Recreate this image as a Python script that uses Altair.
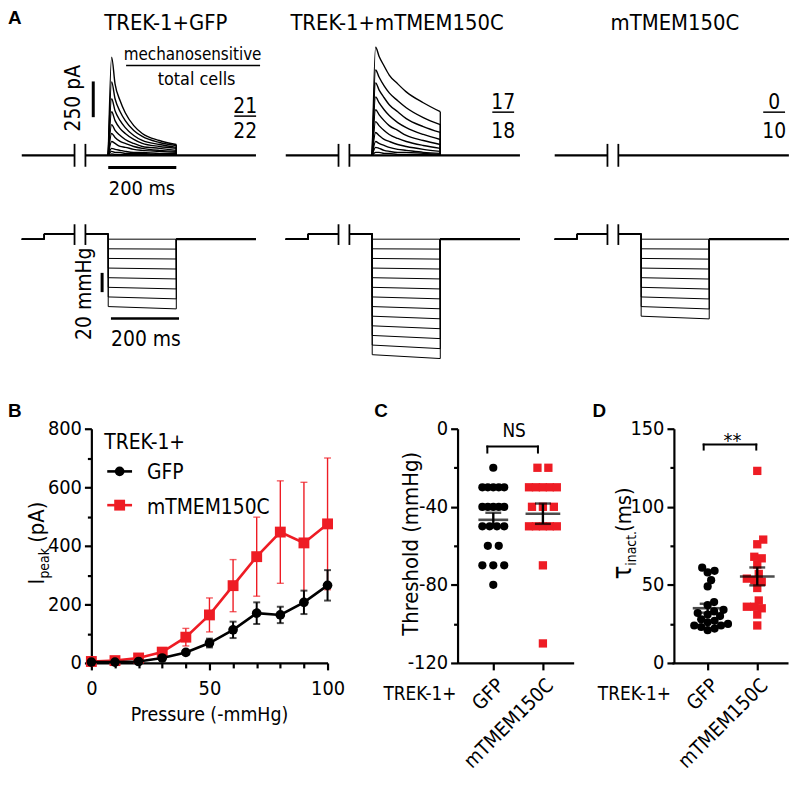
import altair as alt
import pandas as pd

# ------------------------------------------------------------------ data
# Panel A : whole-cell traces
A_TITLES = ["TREK-1+GFP", "TREK-1+mTMEM150C", "mTMEM150C"]
A_SENSITIVE = ["21", "17", "0"]
A_TOTAL = ["22", "18", "10"]
A_TIME = [0, 10, 20, 35, 50, 75, 100, 150, 200]          # ms after pressure onset
A_GFP_CURRENT = [                                          # pA
    [0, 687, 500, 382, 298, 208, 153, 104, 76],
    [0, 514, 396, 305, 243, 174, 132, 90, 69],
    [0, 396, 312, 243, 194, 139, 104, 76, 56],
    [0, 305, 243, 187, 153, 111, 83, 62, 49],
    [0, 215, 174, 139, 111, 83, 62, 49, 35],
    [0, 153, 125, 97, 83, 62, 49, 35, 28],
    [0, 97, 83, 62, 56, 42, 35, 28, 21],
    [0, 49, 42, 35, 28, 21, 21, 14, 14],
    [0, 28, 21, 21, 14, 14, 14, 7, 7],
    [0, 10, 7, 7, 7, 7, 7, 3, 3],
]
A_MTM_CURRENT = [
    [0, 756, 694, 625, 562, 500, 444, 368, 305],
    [0, 597, 548, 486, 437, 382, 333, 264, 215],
    [0, 507, 458, 403, 354, 305, 257, 201, 160],
    [0, 409, 368, 319, 278, 229, 194, 146, 111],
    [0, 319, 285, 243, 208, 174, 139, 104, 76],
    [0, 236, 208, 174, 146, 118, 97, 69, 49],
    [0, 160, 139, 111, 97, 76, 62, 42, 28],
    [0, 97, 83, 69, 56, 42, 35, 21, 14],
    [0, 56, 49, 35, 28, 21, 21, 14, 7],
    [0, 21, 21, 14, 14, 7, 7, 7, 0],
]
A_ALONE_CURRENT = []
A_REC = [-254, -99, -67, 434]     # record start, break start, break end, record end (ms)
A_HOLD_T = -188                   # ms, small holding step
A_HOLD_P = 5.5                    # mmHg
A_STEP_END = 200                  # ms
A_GFP_P_START = [0, -10, -20, -30, -40, -50, -60, -70]
A_GFP_P_END = [0, -10.3, -20.6, -31, -41.3, -51.7, -62, -72.4]
A_MTM_P_START = [0, -10, -20, -30, -40, -50, -60, -70, -80, -90, -100, -110, -120]
A_MTM_P_END = [0, -10.3, -20.7, -31, -41.3, -51.7, -62, -72.3, -82.7, -93, -103.3, -113.7, -124]
A_ALONE_P_START = [0, -10, -20, -30, -40, -50, -60, -70, -80]
A_ALONE_P_END = [0, -10.3, -20.7, -31, -41.4, -51.8, -62.1, -72.5, -82.8]

# Panel B : peak current vs pressure (mean, SEM)
B_PRESSURE = [0, 10, 20, 30, 40, 50, 60, 70, 80, 90, 100]
B_GFP_MEAN = [3, 3, 5, 17, 36, 68, 113, 170, 164, 207, 265]
B_GFP_SEM = [2, 2, 3, 5, 7, 15, 28, 37, 28, 40, 52]
B_MTM_MEAN = [5, 8, 17, 37, 88, 164, 264, 363, 447, 410, 475]
B_MTM_SEM = [3, 4, 6, 9, 30, 58, 89, 135, 175, 207, 225]

# Panel C : threshold (mmHg)
C_GFP = [-20, -30, -30, -30, -30, -30, -40, -40, -40, -40, -40,
         -50, -50, -50, -50, -60, -60, -70, -70, -70, -80]
C_MTM = [-20, -20, -30, -30, -30, -30, -30, -40, -40, -40,
         -50, -50, -50, -50, -50, -70, -110]
# Panel D : inactivation time constant (ms)
D_GFP = [61, 59, 58, 53, 49, 39, 37, 34, 33, 32, 31, 30, 28, 27, 26, 25, 24, 24, 23, 22, 21]
D_MTM = [123, 79, 76, 68, 67, 63, 57, 54, 53, 52, 48, 40, 36, 36, 35, 31, 24]
GROUPS = ["GFP", "mTMEM150C"]

# ------------------------------------------------------------------ style
FONT = "DejaVu Sans Condensed, DejaVu Sans, sans-serif"
BOLD = "Liberation Sans, Arial, sans-serif"
RED = "#ee1c24"
W, H = 790, 772
BOTTOM = 657          # y of the 0-line of the lower panels (chart px)
TICK_FS = 20


def scale(d0, d1, p0, ppu, flip=True):
    rng = [p0 - d0 * ppu, p0 - d1 * ppu] if flip else [p0 + d0 * ppu, p0 + d1 * ppu]
    return alt.Scale(domain=[d0, d1], range=rng, nice=False, zero=False)


def axis(orient, offset, values, labels=True, tick=6, domain=True, expr=None, angle=0, pad=3):
    kw = dict(orient=orient, offset=offset, values=values, grid=False, labels=labels,
              domain=domain, domainColor="black", domainWidth=2.2, tickColor="black",
              tickWidth=2.2, tickSize=tick, labelFont=FONT, labelFontSize=TICK_FS,
              labelColor="black", labelPadding=pad, labelFlush=False, labelOverlap=False,
              labelAngle=angle)
    if expr:
        kw["labelExpr"] = expr
    return alt.Axis(**kw)


layers = []
ONE = pd.DataFrame({"k": [0]})


def text(s, x, y, size=21, align="center", baseline="alphabetic", angle=0,
         font=FONT, weight="normal", color="black"):
    layers.append(alt.Chart(ONE).mark_text(
        x=x - 8, y=y - 8, align=align, baseline=baseline, angle=angle, font=font,
        fontSize=size, fontWeight=weight, color=color).encode(text=alt.value(s)))


def hline(x1, x2, y, w=2.0, color="black"):
    layers.append(alt.Chart(ONE).mark_rule(color=color, strokeWidth=w).encode(
        x=alt.value(x1 - 8), x2=alt.value(x2 - 8), y=alt.value(y - 8)))


def vline(x, y1, y2, w=2.0, color="black"):
    layers.append(alt.Chart(ONE).mark_rule(color=color, strokeWidth=w).encode(
        x=alt.value(x - 8), y=alt.value(y1 - 8), y2=alt.value(y2 - 8)))


# ------------------------------------------------------------------ panel A
K_T = 0.343                       # px per ms
COL_P = [101, 367, 638]           # chart x of pressure onset per column
I_SCALE = scale(-150, 900, 145.5, 0.144)
P_SCALE = scale(-135, 25, 230, 0.97)
CURRENTS = [A_GFP_CURRENT, A_MTM_CURRENT, A_ALONE_CURRENT]
P_STARTS = [A_GFP_P_START, A_MTM_P_START, A_ALONE_P_START]
P_ENDS = [A_GFP_P_END, A_MTM_P_END, A_ALONE_P_END]

for c in range(3):
    P = COL_P[c]
    xs = alt.Scale(domain=[A_REC[0], A_REC[3]],
                   range=[P + A_REC[0] * K_T, P + A_REC[3] * K_T], nice=False, zero=False)
    X = lambda f: alt.X(f, scale=xs, axis=None, title=None)

    base = pd.DataFrame({"t": [A_REC[0], A_REC[1], A_REC[2], A_REC[3]],
                         "v": [0, 0, 0, 0], "seg": [0, 0, 1, 1]})
    layers.append(alt.Chart(base).mark_line(color="black", strokeWidth=2.2).encode(
        x=X("t:Q"), y=alt.Y("v:Q", scale=I_SCALE, axis=None, title=None), detail="seg:N"))

    rows, drops = [], []
    for k, tr in enumerate(CURRENTS[c]):
        for t, v in zip(A_TIME, tr):
            rows.append({"t": t, "v": v, "id": k})
        drops.append({"t": A_TIME[-1], "v": 0, "v2": tr[-1]})
    if rows:
        df = pd.DataFrame(rows)
        layers.append(alt.Chart(df).mark_line(color="black", strokeWidth=1.4,
                                              interpolate="monotone").encode(
            x=X("t:Q"), y=alt.Y("v:Q", scale=I_SCALE, axis=None, title=None), detail="id:N"))
        layers.append(alt.Chart(pd.DataFrame(drops)).mark_rule(color="black", strokeWidth=1.3).encode(
            x=X("t:Q"), y=alt.Y("v:Q", scale=I_SCALE, axis=None, title=None), y2="v2:Q"))

    brk = pd.DataFrame({"t": [A_REC[1], A_REC[2]], "a": [-80, -80], "b": [80, 80]})
    layers.append(alt.Chart(brk).mark_rule(color="black", strokeWidth=1.8).encode(
        x=X("t:Q"), y=alt.Y("a:Q", scale=I_SCALE, axis=None, title=None), y2="b:Q"))
    brkp = pd.DataFrame({"t": [A_REC[1], A_REC[2]], "a": [-6, -6], "b": [15.5, 15.5]})
    layers.append(alt.Chart(brkp).mark_rule(color="black", strokeWidth=1.8).encode(
        x=X("t:Q"), y=alt.Y("a:Q", scale=P_SCALE, axis=None, title=None), y2="b:Q"))

    prow = []
    for k, (p0, p1) in enumerate(zip(P_STARTS[c], P_ENDS[c])):
        pts = [(A_REC[0], 0, 0), (A_HOLD_T, 0, 0), (A_HOLD_T, A_HOLD_P, 0), (A_REC[1], A_HOLD_P, 0),
               (A_REC[2], A_HOLD_P, 1), (0, A_HOLD_P, 1), (0, p0, 1), (A_STEP_END, p1, 1),
               (A_STEP_END, 0, 1), (A_REC[3], 0, 1)]
        for i, (t, v, s) in enumerate(pts):
            prow.append({"t": t, "v": v, "id": f"{k}-{s}", "i": i})
    layers.append(alt.Chart(pd.DataFrame(prow)).mark_line(color="black", strokeWidth=1.0).encode(
        x=X("t:Q"), y=alt.Y("v:Q", scale=P_SCALE, axis=None, title=None),
        detail="id:N", order="i:Q"))
    post = pd.DataFrame({"t": [A_STEP_END, A_REC[3]], "v": [0, 0]})
    layers.append(alt.Chart(post).mark_line(color="black", strokeWidth=2.0).encode(
        x=X("t:Q"), y=alt.Y("v:Q", scale=P_SCALE, axis=None, title=None)))

    if c == 0:
        bar = pd.DataFrame({"t": [-44], "a": [267], "b": [517]})
        layers.append(alt.Chart(bar).mark_rule(color="black", strokeWidth=3).encode(
            x=X("t:Q"), y=alt.Y("a:Q", scale=I_SCALE, axis=None, title=None), y2="b:Q"))
        tb = pd.DataFrame({"t": [0], "t2": [200], "v": [-85]})
        layers.append(alt.Chart(tb).mark_rule(color="black", strokeWidth=3).encode(
            x=X("t:Q"), x2="t2:Q", y=alt.Y("v:Q", scale=I_SCALE, axis=None, title=None)))
        pb = pd.DataFrame({"t": [-18], "a": [-35], "b": [-55]})
        layers.append(alt.Chart(pb).mark_rule(color="black", strokeWidth=3).encode(
            x=X("t:Q"), y=alt.Y("a:Q", scale=P_SCALE, axis=None, title=None), y2="b:Q"))
        tb2 = pd.DataFrame({"t": [8], "t2": [208], "v": [-82.5]})
        layers.append(alt.Chart(tb2).mark_rule(color="black", strokeWidth=2.5).encode(
            x=X("t:Q"), x2="t2:Q", y=alt.Y("v:Q", scale=P_SCALE, axis=None, title=None)))

text("A", 8, 21, size=19, align="left", font=BOLD, weight="bold")
for cx, s in zip([167, 400, 680], A_TITLES):
    text(s, cx, 27, size=22)
text("mechanosensitive", 194, 57, size=17)
hline(127, 262, 63, w=1.5)
text("total cells", 198, 83, size=18)
for cx, top, bot, ly in zip([247, 507, 780], A_SENSITIVE, A_TOTAL, [114, 110, 110]):
    text(top, cx, ly - 3, size=21)
    hline(cx - 11, cx + 11, ly, w=1.5)
    text(bot, cx, 136.5, size=21)
text("250 pA", 81, 96, size=21, angle=270, baseline="alphabetic")
text("200 ms", 143, 193, size=20)
text("20 mmHg", 92, 293, size=21, angle=270)
text("200 ms", 147, 346, size=21)

# ------------------------------------------------------------------ panel B
BX = scale(0, 100, 84, 2.38, flip=False)
BY = scale(0, 800, BOTTOM, 0.295)
bdf = pd.DataFrame({"p": B_PRESSURE, "g": B_GFP_MEAN, "gs": B_GFP_SEM,
                    "m": B_MTM_MEAN, "ms": B_MTM_SEM})
bdf["glo"] = bdf.g - bdf.gs
bdf["ghi"] = bdf.g + bdf.gs
bdf["mlo"] = bdf.m - bdf.ms
bdf["mhi"] = bdf.m + bdf.ms
bb = alt.Chart(bdf)
bx_major = alt.X("p:Q", scale=BX, title=None,
                 axis=axis("bottom", BOTTOM - H, [0, 50, 100], tick=7, pad=9))
by_major = alt.Y("m:Q", scale=BY, title=None, axis=axis("left", -84, [0, 200, 400, 600, 800], tick=7))
bx = alt.X("p:Q", scale=BX, axis=None, title=None)
for col, mean, lo, hi, shape, size, sw in [
        (RED, "m", "mlo", "mhi", "square", 120, 1.4), ("black", "g", "glo", "ghi", "circle", 95, 2.0)]:
    layers.append(bb.mark_rule(color=col, strokeWidth=sw).encode(
        x=bx, y=alt.Y(f"{lo}:Q", scale=BY, axis=None, title=None), y2=f"{hi}:Q"))
    for cap in (lo, hi):
        layers.append(bb.mark_tick(color=col, orient="horizontal", size=7, thickness=sw).encode(
            x=bx, y=alt.Y(f"{cap}:Q", scale=BY, axis=None, title=None)))
    layers.append(bb.mark_line(color=col, strokeWidth=2.6).encode(
        x=bx, y=alt.Y(f"{mean}:Q", scale=BY, axis=None, title=None)))
    layers.append(bb.mark_point(color=col, shape=shape, filled=True, opacity=1, size=size).encode(
        x=bx, y=alt.Y(f"{mean}:Q", scale=BY, axis=None, title=None)))
layers.append(bb.mark_point(opacity=0).encode(x=bx_major, y=by_major))
layers.append(bb.mark_point(opacity=0).encode(
    x=alt.X("p:Q", scale=BX, title=None,
            axis=axis("bottom", BOTTOM - H, [10, 20, 30, 40, 60, 70, 80, 90], labels=False,
                      tick=5, domain=False)),
    y=alt.Y("m:Q", scale=BY, title=None,
            axis=axis("left", -84, [100, 300, 500, 700], labels=False, tick=4, domain=False))))

text("B", 8, 417, size=19, align="left", font=BOLD, weight="bold")
text("TREK-1+", 105, 449, size=21, align="left")
hline(108, 133, 472, w=2.6)
layers.append(alt.Chart(ONE).mark_point(shape="circle", filled=True, color="black", opacity=1,
                                        size=95).encode(x=alt.value(112.5), y=alt.value(464)))
text("GFP", 148, 480, size=21, align="left")
hline(108, 133, 506, w=2.6, color=RED)
layers.append(alt.Chart(ONE).mark_point(shape="square", filled=True, color=RED, opacity=1,
                                        size=120).encode(x=alt.value(112.5), y=alt.value(498)))
text("mTMEM150C", 148, 515, size=21, align="left")
text("I", 44, 586, size=22, angle=270, align="left")
text("peak", 49, 580, size=14, angle=270, align="left")
text("(pA)", 44, 544, size=22, angle=270, align="left")
text("Pressure (-mmHg)", 211, 723, size=19.5)


# ------------------------------------------------------------------ panels C and D
def swarm(values, ppu, dist):
    """deterministic swarm layout: horizontal offsets (px) keeping dots dist apart"""
    placed, res = [], [0.0] * len(values)
    order = sorted(range(len(values)), key=lambda i: values[i])
    for i in order:
        y = values[i] * ppu
        k = 0
        while True:
            cands = [0.0] if k == 0 else [k * 0.5, -k * 0.5]
            ok = [cd for cd in cands
                  if all((cd - px) ** 2 + (y - py) ** 2 >= dist ** 2 for px, py in placed)]
            if ok:
                break
            k += 1
        placed.append((ok[0], y))
        res[i] = ok[0]
    return res


def rows_layout(values, span):
    """equal values side by side, centred, within a fixed span (px)"""
    res = [0.0] * len(values)
    for v in sorted(set(values)):
        idx = [i for i, w in enumerate(values) if w == v]
        n = len(idx)
        step = min(11.0, span / (n - 1)) if n > 1 else 0
        for j, i in enumerate(idx):
            res[i] = (j - (n - 1) / 2) * step
    return res


def dot_panel(gfp, mtm, ys, xp0, yaxis_off, major, minor, offs_gfp, offs_mtm):
    xs = alt.Scale(domain=[-36 / 50, 81 / 50], range=[xp0 - 36, xp0 + 81], nice=False, zero=False)
    rows = []
    for g, vals, offs in [(0, gfp, offs_gfp), (1, mtm, offs_mtm)]:
        for v, o in zip(vals, offs):
            rows.append({"g": g, "x": g + o / 50.0, "v": v})
    df = pd.DataFrame(rows)
    yax = alt.Y("v:Q", scale=ys, axis=None, title=None)
    for g, col, shape, size in [(0, "black", "circle", 68), (1, RED, "square", 70)]:
        layers.append(alt.Chart(df[df.g == g]).mark_point(
            shape=shape, filled=True, color=col, opacity=1, size=size).encode(
            x=alt.X("x:Q", scale=xs, axis=None, title=None), y=yax))
    st = []
    for g, vals in enumerate([gfp, mtm]):
        n = len(vals)
        m = sum(vals) / n
        sd = (sum((v - m) ** 2 for v in vals) / (n - 1)) ** 0.5
        st.append({"x": g, "m": m, "lo": m - sd / n ** 0.5, "hi": m + sd / n ** 0.5})
    sdf = pd.DataFrame(st)
    xx = alt.X("x:Q", scale=xs, axis=None, title=None)
    for g in (0, 1):
        sc = alt.Chart(sdf[sdf.x == g])
        layers.append(sc.mark_tick(color="black", orient="horizontal", size=30 if g == 0 else 35,
                                   thickness=2.6).encode(
            x=xx, y=alt.Y("m:Q", scale=ys, axis=None, title=None)))
    sc = alt.Chart(sdf)
    layers.append(sc.mark_rule(color="black", strokeWidth=2.4).encode(
        x=xx, y=alt.Y("lo:Q", scale=ys, axis=None, title=None), y2="hi:Q"))
    for cap in ("lo", "hi"):
        layers.append(sc.mark_tick(color="black", orient="horizontal", size=16, thickness=2.4).encode(
            x=xx, y=alt.Y(f"{cap}:Q", scale=ys, axis=None, title=None)))
    layers.append(sc.mark_point(opacity=0).encode(
        x=alt.X("x:Q", scale=xs, title=None,
                axis=axis("bottom", BOTTOM - H, [0, 1], tick=7, angle=-45, pad=5,
                          expr="datum.value == 0 ? '%s' : '%s'" % tuple(GROUPS))),
        y=alt.Y("m:Q", scale=ys, title=None,
                axis=axis("left", yaxis_off, major, tick=7, expr="'' + datum.value"))))
    layers.append(sc.mark_point(opacity=0).encode(
        x=xx,
        y=alt.Y("m:Q", scale=ys, title=None,
                axis=axis("left", yaxis_off, minor, labels=False, tick=4, domain=False))))


CY = scale(-120, 0, 421, 236 / 120)
dot_panel(C_GFP, C_MTM, CY, 489, -453, [0, -40, -80, -120], [-20, -60, -100],
          rows_layout(C_GFP, 22), rows_layout(C_MTM, 28))
DY = scale(0, 150, BOTTOM, 236 / 150)
dot_panel(D_GFP, D_MTM, DY, 705, -671, [0, 50, 100, 150], [25, 75, 125],
          swarm(D_GFP, 236 / 150, 7.0), swarm(D_MTM, 236 / 150, 7.5))

text("C", 377, 417, size=19, align="left", font=BOLD, weight="bold")
text("NS", 518, 437, size=19)
hline(490, 543, 447, w=2)
vline(491, 446, 454)
vline(542, 446, 454)
text("TREK-1+", 460, 702, size=19, align="right")
text("Threshold (mmHg)", 421, 545, size=22, angle=270)

text("D", 597, 417, size=19, align="left", font=BOLD, weight="bold")
text("**", 738, 447, size=20)
hline(708, 763, 445, w=2)
vline(709, 444, 451)
vline(762, 444, 451)
text("TREK-1+", 676, 702, size=19, align="right")
text("\u03c4", 636, 581, size=26, angle=270, align="left")
text("inact.", 641, 567, size=14, angle=270, align="left")
text("(ms)", 636, 533, size=22, angle=270, align="left")

chart = alt.layer(*layers).resolve_scale(x="independent", y="independent").properties(
    width=W, height=H, autosize=alt.AutoSizeParams(type="none"), padding=0
).configure_view(stroke=None)

chart.save("out.html", embed_options={"renderer": "svg", "actions": False})
